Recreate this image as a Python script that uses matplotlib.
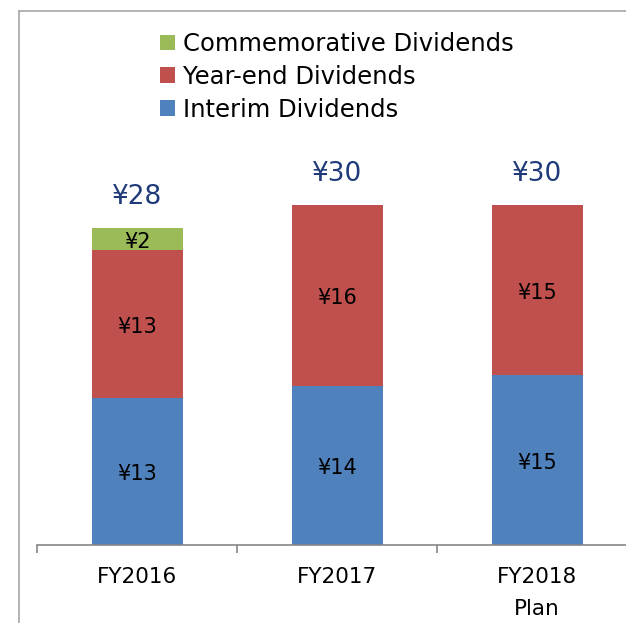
import matplotlib.pyplot as plt
from matplotlib.lines import Line2D

# data
categories = ['FY2016', 'FY2017', 'FY2018\nPlan']
interim = [13, 14, 15]
year_end = [13, 16, 15]
commemorative = [2, 0, 0]
totals = [28, 30, 30]

c_blue = '#4F81BD'
c_red = '#C0504D'
c_green = '#9BBB59'
c_total = '#1F3A78'

fig = plt.figure(figsize=(6.26, 6.23), dpi=100)
W, H = 626, 623

# axes: x from 37px to 637px, baseline at 545px
ax = fig.add_axes([37 / W, (H - 545) / H, 600 / W, 510 / H])
x = list(range(len(categories)))
bw = 0.455

b1 = ax.bar(x, interim, width=bw, color=c_blue, label='Interim Dividends')
b2 = ax.bar(x, year_end, width=bw, bottom=interim, color=c_red, label='Year-end Dividends')
bottom3 = [a + b for a, b in zip(interim, year_end)]
b3 = ax.bar(x, commemorative, width=bw, bottom=bottom3, color=c_green, label='Commemorative Dividends')

# labels inside bars
lbl_kw = dict(textcoords='offset points', xytext=(0, -2), ha='center', va='center', fontsize=15, color='black')
for i in x:
    ax.annotate(f'¥{interim[i]}', (i, interim[i] / 2), **lbl_kw)
    ax.annotate(f'¥{year_end[i]}', (i, interim[i] + year_end[i] / 2), **lbl_kw)
    if commemorative[i]:
        ax.annotate(f'¥{commemorative[i]}', (i, bottom3[i] + commemorative[i] / 2), **lbl_kw)
    ax.annotate(f'¥{totals[i]}', (i, totals[i]), xytext=(0, 22), textcoords='offset points',
                ha='center', va='center', fontsize=19, color=c_total)

ax.set_xlim(-0.5, 2.5)
ax.set_ylim(0, 45)
ax.set_yticks([])
for s in ['top', 'right', 'left']:
    ax.spines[s].set_visible(False)
ax.spines['bottom'].set_color('#868686')
ax.spines['bottom'].set_linewidth(1.2)

ax.set_xticks(x)
ax.set_xticklabels(categories, fontsize=15.5)
ax.tick_params(axis='x', which='major', length=0, pad=15.5)
for lbl in ax.get_xticklabels():
    lbl.set_linespacing(1.75)
ax.set_xticks([-0.5, 0.5, 1.5, 2.5], minor=True)
ax.tick_params(axis='x', which='minor', length=6, color='#868686', width=1.2)

# legend (reverse order)
ax.legend([b3, b2, b1], ['Commemorative Dividends', 'Year-end Dividends', 'Interim Dividends'],
          loc='upper left', bbox_to_anchor=(148 / W, 1 - 20 / H), bbox_transform=fig.transFigure,
          frameon=False, fontsize=17.5, handlelength=0.62, handleheight=0.62, handletextpad=0.33,
          labelspacing=0.36, borderpad=0)

# outer frame (left and top lines)
fig.add_artist(Line2D([19 / W, 19 / W], [0, 1 - 11 / H], transform=fig.transFigure, color='#A6A6A6', lw=1.2))
fig.add_artist(Line2D([19 / W, 1], [1 - 11 / H, 1 - 11 / H], transform=fig.transFigure, color='#A6A6A6', lw=1.2))

fig.savefig('out.png', dpi=100)
